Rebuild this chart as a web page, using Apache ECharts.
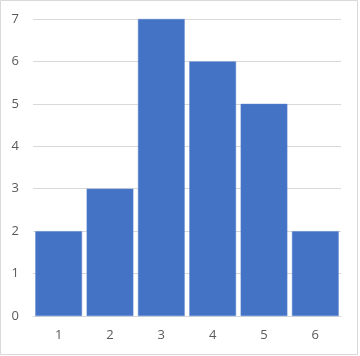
<!DOCTYPE html>
<html><head><meta charset="utf-8">
<script src="https://cdn.jsdelivr.net/npm/echarts@6/dist/echarts.min.js"></script>
<style>
html,body{margin:0;padding:0;background:#fff;}
#c{width:360px;height:356px;}
</style></head>
<body><div id="c"></div>
<script>
const categories = ['1','2','3','4','5','6'];
const values = [2, 3, 7, 6, 5, 2];
const yTicks = [0, 1, 2, 3, 4, 5, 6, 7];

const chart = echarts.init(document.getElementById('c'), null, {renderer:'canvas'});
chart.setOption({
  backgroundColor: '#ffffff',
  animation: false,
  graphic: [{
    type: 'rect',
    shape: {x: 0.5, y: 0.5, width: 357, height: 354},
    style: {fill: 'none', stroke: '#d9d9d9', lineWidth: 1},
    silent: true
  }],
  grid: {left: 33, right: 19, top: 19, bottom: 40},
  xAxis: {
    type: 'category',
    data: categories,
    axisLine: {lineStyle: {color: '#d9d9d9'}},
    axisTick: {show: false},
    axisLabel: {color: '#595959', fontSize: 13, fontFamily: 'Open Sans', margin: 13}
  },
  yAxis: {
    type: 'value',
    min: yTicks[0],
    max: yTicks[yTicks.length - 1],
    interval: 1,
    axisLine: {show: false},
    axisTick: {show: false},
    splitLine: {lineStyle: {color: '#d9d9d9', width: 1}},
    axisLabel: {color: '#595959', fontSize: 13, fontFamily: 'Open Sans', margin: 14}
  },
  series: [{
    type: 'bar',
    data: values,
    barCategoryGap: '9%',
    itemStyle: {color: '#4472c4', borderColor: '#5a85d0', borderWidth: 0.5}
  }]
});
</script></body></html>
